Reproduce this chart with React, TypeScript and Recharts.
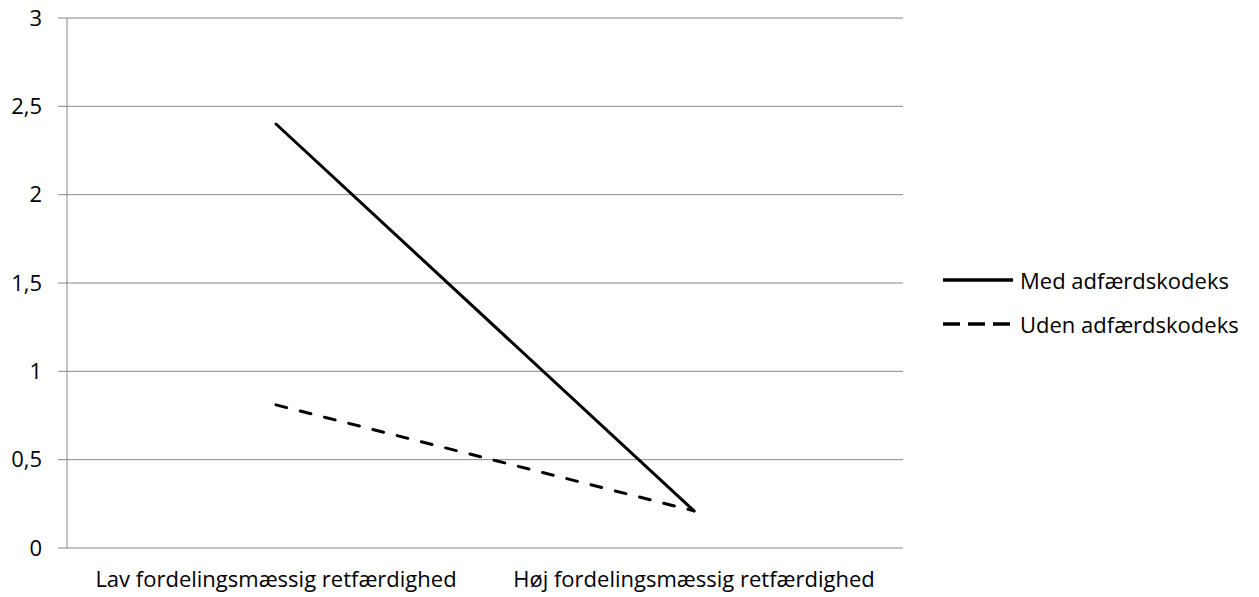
import { LineChart, Line, XAxis, YAxis, CartesianGrid } from 'recharts';

// Categories and series values
const categories = ['Lav fordelingsmæssig retfærdighed', 'Høj fordelingsmæssig retfærdighed'];
const medValues = [2.4, 0.21];
const udenValues = [0.81, 0.21];
const yTicks = [0, 0.5, 1, 1.5, 2, 2.5, 3];
const bandEdges = [0, 1, 2];
const bandCenters = [0.5, 1.5];

const FONT = '"Open Sans", sans-serif';
const FONT_SIZE = 22;
const AXIS_GRAY = '#868686';

const data = categories.map((cat, i) => ({
  x: bandCenters[i],
  cat,
  med: medValues[i],
  uden: udenValues[i],
}));

const seriesLegend = [
  { name: 'Med adfærdskodeks', dash: undefined as string | undefined },
  { name: 'Uden adfærdskodeks', dash: '17 8' },
];

function ChartLegend() {
  return (
    <div
      style={{
        position: 'absolute',
        left: 940,
        top: 258,
        fontFamily: FONT,
        fontSize: FONT_SIZE,
        color: '#000',
        whiteSpace: 'nowrap',
      }}
    >
      {seriesLegend.map((s) => (
        <div key={s.name} style={{ display: 'flex', alignItems: 'center', height: 44 }}>
          <svg width={74} height={10} style={{ marginRight: 6 }}>
            <line x1={3} y1={5} x2={73} y2={5} stroke="#000" strokeWidth={3.5} strokeDasharray={s.dash} />
          </svg>
          <span>{s.name}</span>
        </div>
      ))}
    </div>
  );
}

export default function App() {
  return (
    <div style={{ position: 'absolute', left: 0, top: 0, width: 1259, height: 597 }}>
      <LineChart
        width={1259}
        height={597}
        data={data}
        margin={{ top: 18, right: 356, bottom: 0, left: 0 }}
      >
        <CartesianGrid vertical={false} stroke={AXIS_GRAY} strokeWidth={1} />
        <XAxis
          xAxisId="edges"
          type="number"
          dataKey="x"
          domain={[0, 2]}
          ticks={bandEdges}
          height={0}
          tickSize={8}
          tick={() => <g />}
          axisLine={{ stroke: AXIS_GRAY }}
          tickLine={{ stroke: AXIS_GRAY }}
        />
        <XAxis
          xAxisId="cat"
          type="number"
          dataKey="x"
          domain={[0, 2]}
          ticks={bandCenters}
          height={49}
          tickSize={0}
          tickMargin={23}
          axisLine={false}
          tickLine={false}
          tickFormatter={(v: number) => categories[bandCenters.indexOf(v)] ?? ''}
          tick={{ fill: '#000', fontSize: FONT_SIZE, fontFamily: FONT }}
        />
        <YAxis
          width={67}
          domain={[0, 3]}
          ticks={yTicks}
          tickSize={9}
          tickMargin={16}
          axisLine={{ stroke: AXIS_GRAY }}
          tickLine={{ stroke: AXIS_GRAY }}
          tickFormatter={(v: number) => String(v).replace('.', ',')}
          tick={{ fill: '#000', fontSize: FONT_SIZE, fontFamily: FONT }}
        />
        <Line
          xAxisId="cat"
          dataKey="med"
          name="Med adfærdskodeks"
          stroke="#000"
          strokeWidth={3}
          strokeLinecap="round"
          dot={false}
          isAnimationActive={false}
        />
        <Line
          xAxisId="cat"
          dataKey="uden"
          name="Uden adfærdskodeks"
          stroke="#000"
          strokeWidth={3}
          strokeLinecap="round"
          strokeDasharray="11 14"
          dot={false}
          isAnimationActive={false}
        />
      </LineChart>
      <ChartLegend />
    </div>
  );
}
